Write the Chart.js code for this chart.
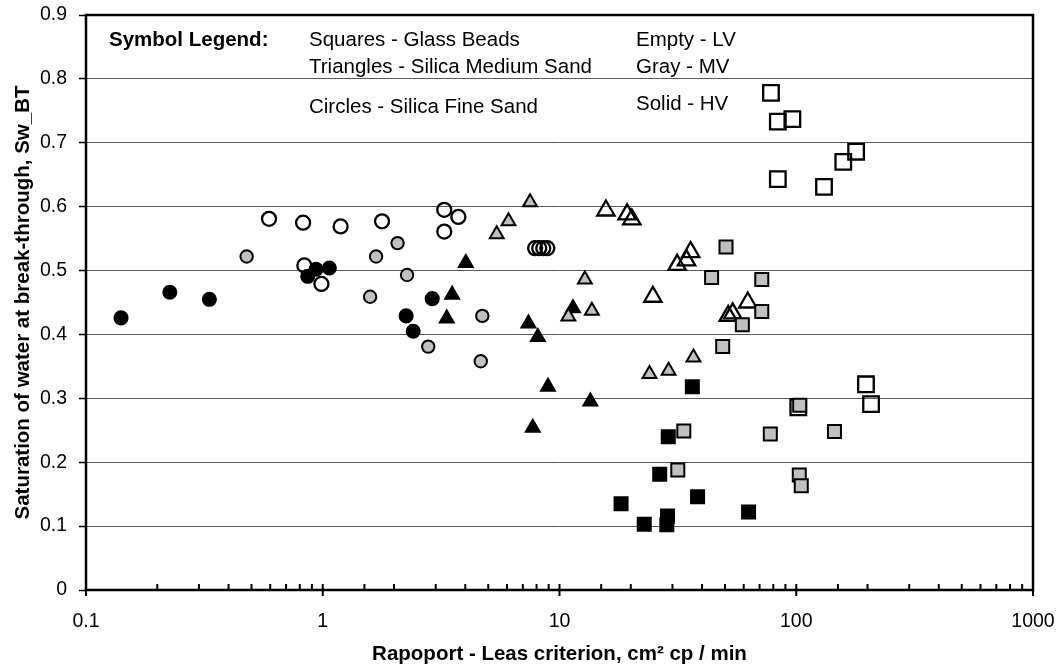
<!DOCTYPE html>
<html>
<head>
<meta charset="utf-8">
<title>Saturation of water at break-through</title>
<script src="https://cdn.jsdelivr.net/npm/chart.js@4.4.1/dist/chart.umd.min.js"></script>
<style>
  html, body { margin: 0; padding: 0; background: #fff; }
  canvas { display: block; }
</style>
</head>
<body>
<canvas id="swChart" width="1061" height="671"></canvas>
<script>
// Squares - glass beads
const beadsLvX = [78.2, 83.6, 96.3, 179, 158, 83.6, 131, 197, 207, 102];
const beadsLvY = [0.778, 0.733, 0.737, 0.686, 0.670, 0.643, 0.631, 0.322, 0.291, 0.286];
const beadsMvX = [50.5, 43.9, 71.5, 71.5, 59.2, 48.9, 33.5, 77.7, 145, 31.6, 103, 105, 103.4];
const beadsMvY = [0.537, 0.489, 0.486, 0.436, 0.415, 0.381, 0.249, 0.244, 0.248, 0.188, 0.180, 0.163, 0.289];
const beadsHvX = [36.4, 28.8, 26.5, 38.3, 18.2, 22.8, 28.6, 28.4, 62.9];
const beadsHvY = [0.318, 0.240, 0.181, 0.146, 0.135, 0.103, 0.116, 0.102, 0.122];

// Triangles - silica medium sand
const mediumLvX = [15.7, 19.3, 20.2, 35.8, 34.4, 31.4, 24.8, 62.4, 53.9, 51.6];
const mediumLvY = [0.594, 0.588, 0.580, 0.529, 0.516, 0.509, 0.459, 0.450, 0.433, 0.429];
const mediumMvX = [5.43, 6.09, 7.51, 12.8, 13.7, 10.9, 24.0, 28.9, 36.8];
const mediumMvY = [0.557, 0.577, 0.607, 0.486, 0.437, 0.428, 0.338, 0.343, 0.364];
const mediumHvX = [4.02, 3.52, 3.34, 7.39, 8.10, 8.94, 7.71, 13.5, 11.4];
const mediumHvY = [0.512, 0.462, 0.425, 0.417, 0.396, 0.318, 0.254, 0.295, 0.441];

// Circles - silica fine sand
const fineLvX = [0.593, 0.826, 1.19, 1.78, 3.26, 3.74, 3.26, 0.836, 0.987, 7.89, 8.21, 8.54, 8.88];
const fineLvY = [0.581, 0.575, 0.569, 0.577, 0.595, 0.584, 0.561, 0.508, 0.479, 0.535, 0.535, 0.535, 0.535];
const fineMvX = [0.477, 1.585, 1.68, 2.07, 2.27, 4.72, 2.79, 4.65];
const fineMvY = [0.522, 0.459, 0.522, 0.543, 0.493, 0.429, 0.381, 0.358];
const fineHvX = [0.1406, 0.226, 0.332, 0.864, 0.937, 1.066, 2.25, 2.41, 2.90];
const fineHvY = [0.426, 0.466, 0.455, 0.491, 0.502, 0.504, 0.429, 0.405, 0.456];

const xTickLabels = ['0.1', '1', '10', '100', '1000'];
const legendHeading = 'Symbol Legend:';
const shapeNotes = ['Squares - Glass Beads', 'Triangles - Silica Medium Sand', 'Circles - Silica Fine Sand'];
const shadeNotes = ['Empty - LV', 'Gray - MV', 'Solid - HV'];

const FONT = '"Liberation Sans", Arial, Helvetica, sans-serif';
const GRAY = '#c0c0c0';
const NONE = 'rgba(0,0,0,0)';

function pts(xs, ys) {
    return xs.map((x, i) => ({ x: x, y: ys[i] }));
}

function series(label, xs, ys, shape, fill, radius, border) {
    return {
        label: label,
        data: pts(xs, ys),
        pointStyle: shape,
        pointRadius: radius,
        pointHoverRadius: radius,
        backgroundColor: fill,
        borderColor: '#000',
        borderWidth: border,
        showLine: false
    };
}

// filled markers first so they end up on top
const datasets = [
    series('Glass beads MV', beadsMvX, beadsMvY, 'rect', GRAY, 9.2, 2),
    series('Glass beads HV', beadsHvX, beadsHvY, 'rect', '#000', 9.2, 2),
    series('Glass beads LV', beadsLvX, beadsLvY, 'rect', NONE, 11, 2.3),
    series('Medium sand MV', mediumMvX, mediumMvY, 'triangle', GRAY, 8, 2),
    series('Medium sand HV', mediumHvX, mediumHvY, 'triangle', '#000', 8, 2),
    series('Medium sand LV', mediumLvX, mediumLvY, 'triangle', NONE, 10, 2.3),
    series('Fine sand MV', fineMvX, fineMvY, 'circle', GRAY, 6.2, 2),
    series('Fine sand HV', fineHvX, fineHvY, 'circle', '#000', 6.8, 1.5),
    series('Fine sand LV', fineLvX, fineLvY, 'circle', NONE, 7, 2.3)
];

function isDecade(v) {
    const l = Math.log10(v);
    return Math.abs(l - Math.round(l)) < 1e-6;
}

const framePlugin = {
    id: 'frame',
    afterDraw(chart) {
        const { ctx, chartArea: a, scales } = chart;
        ctx.save();
        ctx.strokeStyle = '#000';
        ctx.lineWidth = 2.5;
        ctx.strokeRect(a.left, a.top, a.right - a.left, a.bottom - a.top);

        // log ticks: minor inside, decades across the axis
        ctx.lineWidth = 2;
        scales.x.ticks.forEach(t => {
            const px = scales.x.getPixelForValue(t.value);
            const major = isDecade(t.value);
            ctx.beginPath();
            ctx.moveTo(px, a.bottom - 6);
            ctx.lineTo(px, a.bottom + (major ? 6 : 0));
            ctx.stroke();
        });

        // symbol legend
        ctx.fillStyle = '#000';
        ctx.textAlign = 'left';
        ctx.textBaseline = 'alphabetic';
        ctx.font = 'bold 20.5px ' + FONT;
        ctx.fillText(legendHeading, 109, 46);
        ctx.font = '20.5px ' + FONT;
        const shapeY = [46, 73, 112.5];
        const shadeY = [46, 73, 109.5];
        shapeNotes.forEach((s, i) => ctx.fillText(s, 309, shapeY[i]));
        shadeNotes.forEach((s, i) => ctx.fillText(s, 636, shadeY[i]));
        ctx.restore();
    }
};

Chart.defaults.font.family = FONT;
Chart.defaults.color = '#000';

const swCtx = document.getElementById('swChart').getContext('2d');
const swChart = new Chart(swCtx, {
    type: 'scatter',
    data: { datasets: datasets },
    options: {
        responsive: false,
        animation: false,
        layout: { padding: { top: 15, right: 28, left: 0, bottom: 0 } },
        plugins: {
            legend: { display: false },
            tooltip: { enabled: false }
        },
        scales: {
            x: {
                type: 'logarithmic',
                min: 0.1,
                max: 1000,
                grid: { display: false, drawTicks: false },
                border: { display: false },
                ticks: {
                    autoSkip: false,
                    maxRotation: 0,
                    padding: 20,
                    font: { size: 19.5 },
                    callback: function (v) {
                        if (!isDecade(v)) return '';
                        return xTickLabels[Math.round(Math.log10(v)) + 1];
                    }
                },
                title: {
                    display: true,
                    text: 'Rapoport - Leas criterion, cm² cp / min',
                    font: { size: 20.5, weight: 'bold' },
                    padding: { top: 0, bottom: 4 }
                },
                afterFit: function (scale) {
                    scale.height = 81;
                    scale.paddingLeft = 0;
                    scale.paddingRight = 0;
                }
            },
            y: {
                min: 0,
                max: 0.9,
                grid: {
                    color: '#5a5a5a',
                    lineWidth: 1,
                    tickColor: '#000',
                    tickLength: 7,
                    tickWidth: 1.5
                },
                border: { display: false },
                ticks: {
                    stepSize: 0.1,
                    padding: 12,
                    font: { size: 19.5 }
                },
                title: {
                    display: true,
                    text: 'Saturation of water at break-through, Sw_BT',
                    font: { size: 20.5, weight: 'bold' },
                    padding: { top: 11, bottom: 0 }
                },
                afterFit: function (scale) {
                    scale.width = 86;
                    scale.paddingTop = 0;
                    scale.paddingBottom = 0;
                }
            }
        }
    },
    plugins: [framePlugin]
});
</script>
</body>
</html>
